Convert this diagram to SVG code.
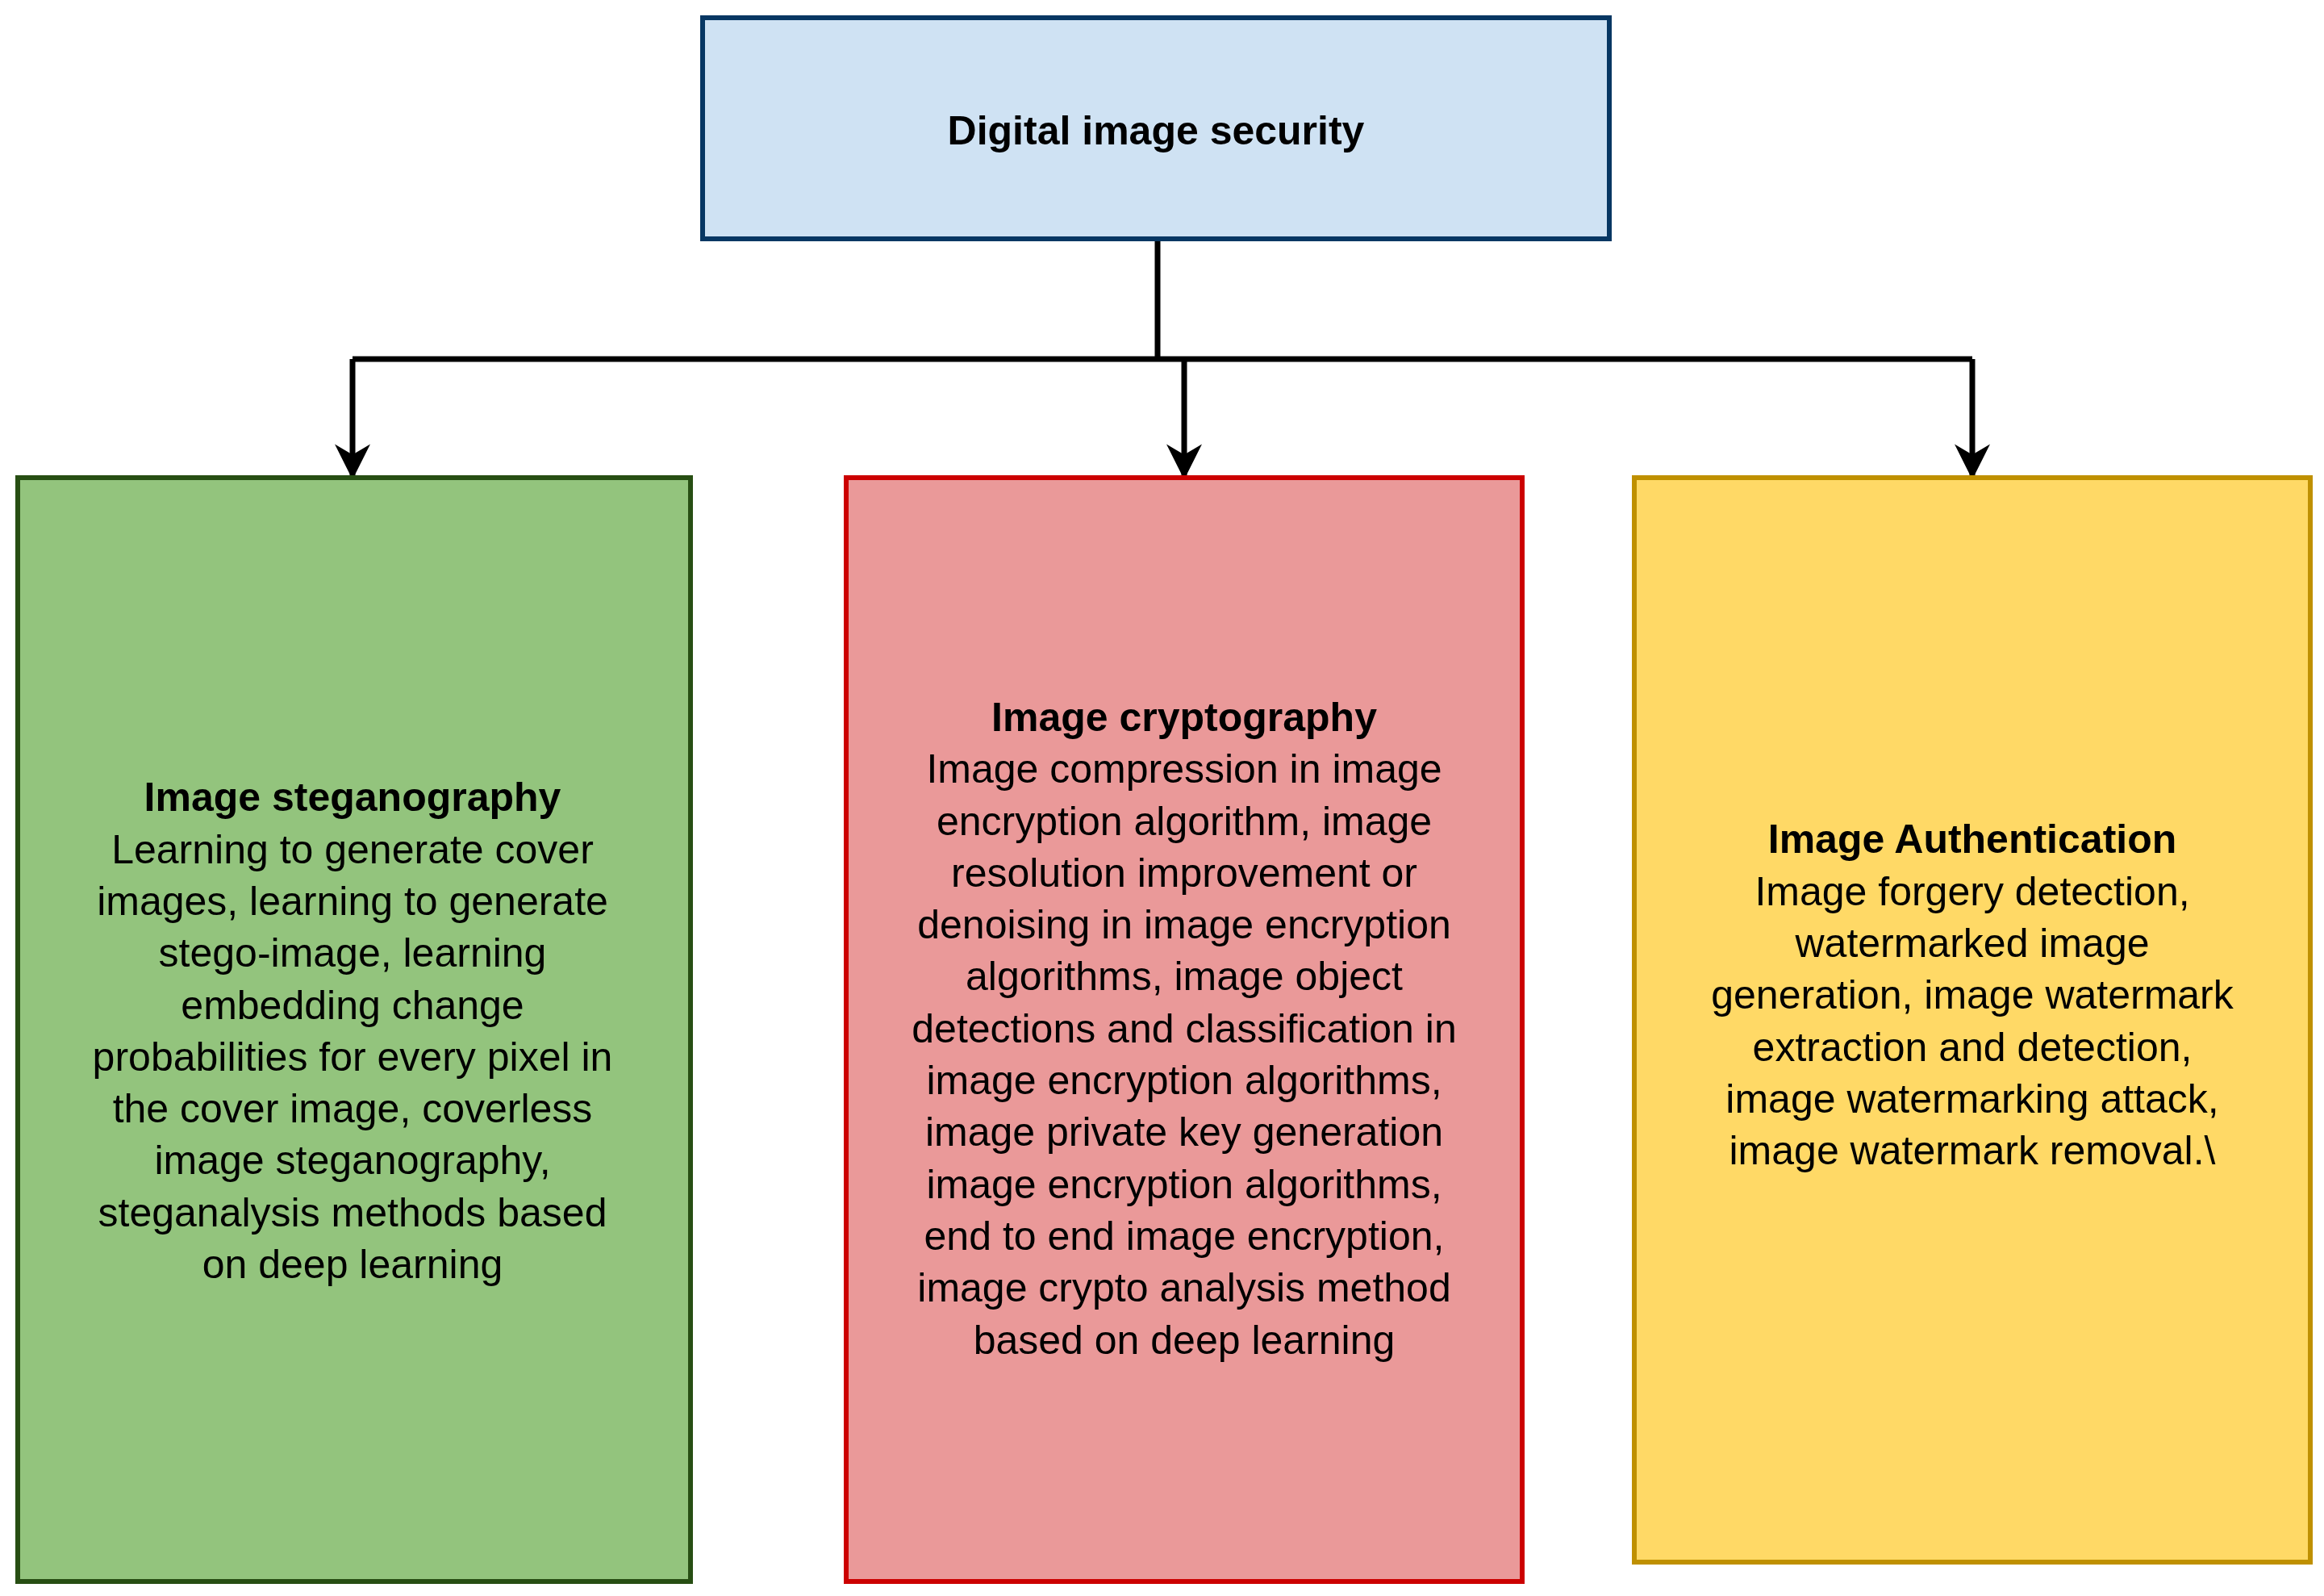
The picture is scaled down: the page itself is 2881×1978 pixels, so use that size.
<svg xmlns="http://www.w3.org/2000/svg" width="2881" height="1978" viewBox="0 0 2881 1978">
<style>
text{font-family:Arial,"Liberation Sans",sans-serif;font-size:50px;fill:#000;text-anchor:middle;dominant-baseline:central}
.b{font-weight:bold}
</style>
<defs><marker id="ah" markerWidth="12" markerHeight="12" refX="10" refY="6" orient="auto" markerUnits="userSpaceOnUse" viewBox="0 0 12 12"><path d="M0,0 L12,6 L0,12 L4,6 Z" fill="#000"/></marker>
<marker id="a" viewBox="0 0 20 20" refX="18" refY="10" markerWidth="44" markerHeight="44" markerUnits="userSpaceOnUse" orient="auto"><path d="M0,0 L20,10 L0,20 L6,10 Z" fill="#000"/></marker></defs>
<rect width="2881" height="1978" fill="#fff"/>
<g id="connectors" fill="none" stroke="#000" stroke-width="7">
<path d="M1435,296 V445"/>
<path d="M437,445 H2445"/>
<path d="M437,445 V590" marker-end="url(#a)"/>
<path d="M1468,445 V590" marker-end="url(#a)"/>
<path d="M2445,445 V590" marker-end="url(#a)"/>
</g>
<g id="root"><rect x="871" y="22" width="1124" height="274" fill="#cfe2f3" stroke="#073763" stroke-width="6"/><text x="1433" y="162" class="b">Digital image security</text></g>
<g id="steg"><rect x="22" y="592" width="834" height="1368" fill="#93c47d" stroke="#274e13" stroke-width="6"/>
<text x="437" y="988" class="b">Image steganography</text>
<text x="437" y="1053">Learning to generate cover</text>
<text x="437" y="1117">images, learning to generate</text>
<text x="437" y="1181">stego-image, learning</text>
<text x="437" y="1246">embedding change</text>
<text x="437" y="1310">probabilities for every pixel in</text>
<text x="437" y="1374">the cover image, coverless</text>
<text x="437" y="1438">image steganography,</text>
<text x="437" y="1503">steganalysis methods based</text>
<text x="437" y="1567">on deep learning</text></g>
<g id="crypto"><rect x="1049" y="592" width="838" height="1368" fill="#ea9999" stroke="#cc0000" stroke-width="6"/>
<text x="1468" y="889" class="b">Image cryptography</text>
<text x="1468" y="953">Image compression in image</text>
<text x="1468" y="1018">encryption algorithm, image</text>
<text x="1468" y="1082">resolution improvement or</text>
<text x="1468" y="1146">denoising in image encryption</text>
<text x="1468" y="1210">algorithms, image object</text>
<text x="1468" y="1275">detections and classification in</text>
<text x="1468" y="1339">image encryption algorithms,</text>
<text x="1468" y="1403">image private key generation</text>
<text x="1468" y="1468">image encryption algorithms,</text>
<text x="1468" y="1532">end to end image encryption,</text>
<text x="1468" y="1596">image crypto analysis method</text>
<text x="1468" y="1661">based on deep learning</text></g>
<g id="auth"><rect x="2026" y="592" width="838" height="1344" fill="#ffd966" stroke="#bf9000" stroke-width="6"/>
<text x="2445" y="1040" class="b">Image Authentication</text>
<text x="2445" y="1105">Image forgery detection,</text>
<text x="2445" y="1169">watermarked image</text>
<text x="2445" y="1233">generation, image watermark</text>
<text x="2445" y="1298">extraction and detection,</text>
<text x="2445" y="1362">image watermarking attack,</text>
<text x="2445" y="1426">image watermark removal.\</text></g>
</svg>
